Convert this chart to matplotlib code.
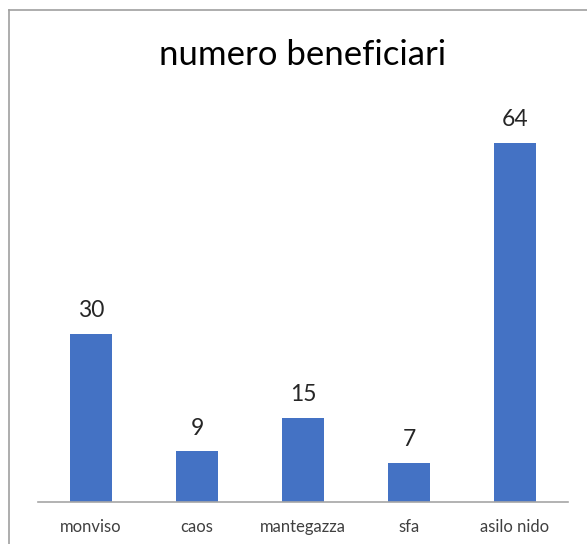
import matplotlib.pyplot as plt
from matplotlib.lines import Line2D

categories = ["monviso", "caos", "mantegazza", "sfa", "asilo nido"]
beneficiari = [30, 9, 15, 7, 64]

plt.rcParams['font.family'] = ['Lato', 'DejaVu Sans']

fig = plt.figure(figsize=(5.87, 5.44), dpi=100)
ax = fig.add_axes([38/587, 42/544, 530/587, (502-109)/544])

x = range(len(categories))
bars = ax.bar(x, beneficiari, width=0.405, color="#4472C4")
for b, v in zip(bars, beneficiari):
    ax.annotate(str(v), (b.get_x() + b.get_width()/2, v), xytext=(0, 9),
                textcoords="offset points", ha="center", va="bottom",
                fontsize=16.5, color="#262626")

ax.set_xlim(-0.5, len(categories) - 0.5)
ax.set_ylim(0, 70)
ax.set_xticks(list(x))
ax.set_xticklabels(categories, fontsize=12, color="#404040")
ax.tick_params(axis="x", length=0, pad=12)
ax.set_yticks([])
for s in ["top", "right", "left"]:
    ax.spines[s].set_visible(False)
ax.spines["bottom"].set_color("#A6A6A6")
ax.spines["bottom"].set_linewidth(1.2)

fig.text(303/587, 1 - 55/544, "numero beneficiari", ha="center", va="center",
         fontsize=25, color="black")

# chart frame (cropped: only left and top edges visible)
fig.add_artist(Line2D([8.5/587, 8.5/587], [0, 1 - 10/544], color="#A0A0A0", lw=1.2))
fig.add_artist(Line2D([8.5/587, 1], [1 - 10/544, 1 - 10/544], color="#A0A0A0", lw=1.2))

fig.savefig("out.png", dpi=100)
